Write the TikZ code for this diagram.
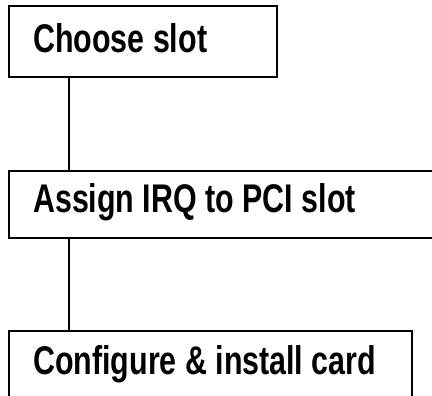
\documentclass[tikz,border=0pt]{standalone}
\usepackage{fontspec}
\setmainfont[FakeStretch=0.76]{Liberation Sans}
\begin{document}
\begin{tikzpicture}[x=1pt,y=-1pt,
  stepbox/.style={draw=black, line width=1.6pt, rectangle, anchor=north west, inner sep=0pt},
  steptext/.style={anchor=base west, inner sep=0pt, font=\fontsize{40}{46}\selectfont\bfseries},
  link/.style={draw=black, line width=1.6pt}]
\useasboundingbox (0,0) rectangle (432,396);
\clip (0,0) rectangle (432,396);
\node[stepbox, minimum width=268pt, minimum height=71pt] (b1) at (8,5) {};
\node[stepbox, minimum width=440pt, minimum height=67pt] (b2) at (8,170) {};
\node[stepbox, minimum width=403pt, minimum height=72pt] (b3) at (8,330) {};
\node[steptext] (t1) at (33,53) {Choose slot};
\node[steptext] (t2) at (33,213) {Assign IRQ to PCI slot};
\node[steptext] (t3) at (33,374) {Configure \& install card};
\draw[link] ([xshift=61pt]b1.south west) -- ([xshift=61pt]b2.north west);
\draw[link] ([xshift=61pt]b2.south west) -- ([xshift=61pt]b3.north west);
\end{tikzpicture}
\end{document}
